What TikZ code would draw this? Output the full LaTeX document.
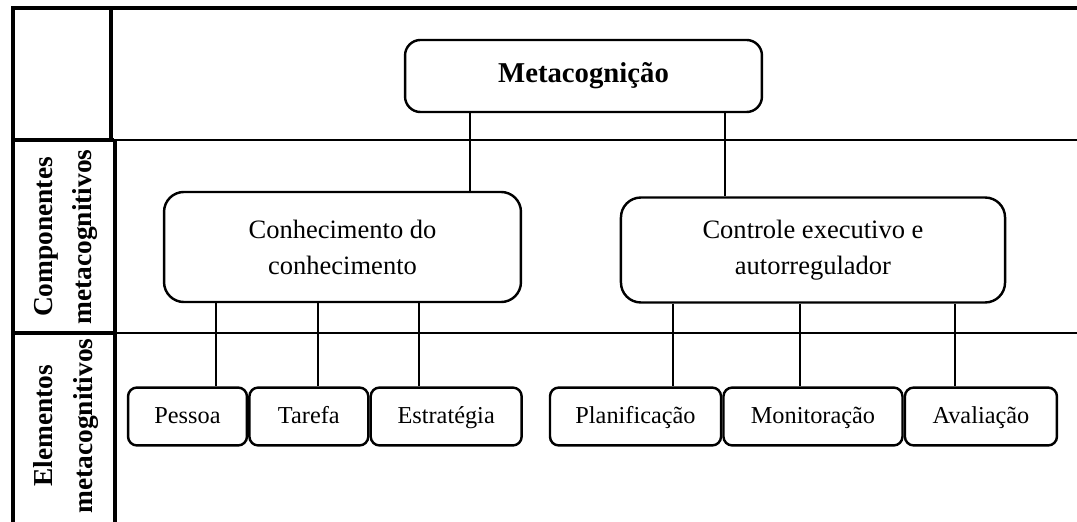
\documentclass[tikz,border=0pt]{standalone}
\usepackage{fontspec}
\setmainfont{Liberation Serif}
\usetikzlibrary{positioning}

\begin{document}
\begin{tikzpicture}[x=0.4525pt,y=-0.4525pt,
    caixa/.style={draw, rounded corners=9pt, line width=1.1pt, align=center, font=\fontsize{12}{16.3}\selectfont},
    item/.style={draw, rounded corners=4pt, line width=1.1pt, minimum height=26.2pt, inner sep=0pt, text height=8.4pt, text depth=2.4pt, font=\fontsize{11}{13}\selectfont},
    rotulo/.style={rotate=90, align=center, font=\fontsize{12.4}{18}\selectfont\bfseries},
    borda/.style={line width=1.4pt},
    linha/.style={line width=0.9pt}]
            \useasboundingbox (0,0) rectangle (1077,522);
            % Quadro
            \draw [borda] (13,522) -- (13,8) -- (1077,8);
            \draw [borda] (111,8) -- (111,140);
            \draw [borda] (115,140) -- (115,522);
            \draw [borda] (13,140) -- (114,140);
            \draw [linha] (114,140) -- (1077,140);
            \draw [borda] (13,333) -- (115,333);
            \draw [linha] (115,333) -- (1077,333);
            \node [rotulo] (comp) at (66,237) {Componentes\\metacognitivos};
            \node [rotulo] (elem) at (66,426) {Elementos\\metacognitivos};

            % Metacognição
            \node [caixa, rounded corners=7pt, minimum width=161.5pt, minimum height=32.6pt, font=\fontsize{13}{15}\selectfont\bfseries] (meta) at (583.5,76) {Metacognição};

            % Componentes
            \node [caixa, minimum width=161.5pt, minimum height=49.8pt] (conh) at (342.5,247) {Conhecimento do\\conhecimento};
            \node [caixa, minimum width=173.8pt, minimum height=47.5pt] (ctrl) at (813,250) {Controle executivo e\\autorregulador};

            % Elementos
            \node [item, minimum width=53.8pt] (pessoa) at (187.5,416.5) {Pessoa};
            \node [item, minimum width=53.8pt, right=0pt of pessoa] (tarefa) {Tarefa};
            \node [item, minimum width=68.3pt, right=0pt of tarefa] (estrat) {Estratégia};
            \node [item, minimum width=77.4pt] (plan) at (635.5,416.5) {Planificação};
            \node [item, minimum width=81pt, right=0pt of plan] (monit) {Monitoração};
            \node [item, minimum width=68.8pt, right=0pt of monit] (aval) {Avaliação};

            % Conexões
            \foreach \n/\x in {ka/470,kb/725,pa/216,pb/318,pc/419,qa/673,qb/800,qc/955}
                \coordinate (\n) at (\x,0);
            \draw [linha] (meta.south -| ka) -- (conh.north -| ka);
            \draw [linha] (meta.south -| kb) -- (ctrl.north -| kb);
            \foreach \c/\b in {pa/pessoa,pb/tarefa,pc/estrat}
                \draw [linha] (conh.south -| \c) -- (\b.north -| \c);
            \foreach \c/\b in {qa/plan,qb/monit,qc/aval}
                \draw [linha] (ctrl.south -| \c) -- (\b.north -| \c);
        \end{tikzpicture}
\end{document}
